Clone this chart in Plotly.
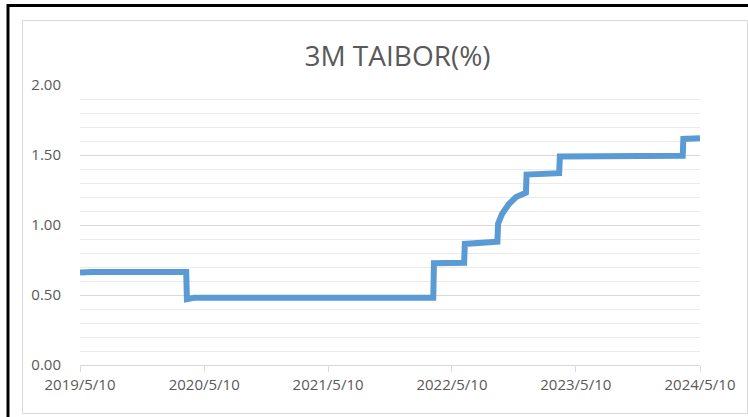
import plotly.graph_objects as go

# Data
dates = [
    "2019-05-10", "2019-06-15", "2020-03-18", "2020-03-20", "2020-04-10",
    "2022-03-16", "2022-03-18", "2022-06-15", "2022-06-17", "2022-09-21",
    "2022-09-23", "2022-10-05", "2022-10-25", "2022-11-15", "2022-12-14",
    "2022-12-16", "2023-03-22", "2023-03-24", "2024-03-20", "2024-03-22",
    "2024-05-10",
]
rates = [
    0.660, 0.665, 0.665, 0.470, 0.480,
    0.480, 0.727, 0.730, 0.865, 0.880,
    1.010, 1.080, 1.150, 1.200, 1.230,
    1.360, 1.370, 1.490, 1.495, 1.615,
    1.620,
]
tick_dates = ["2019-05-10", "2020-05-10", "2021-05-10", "2022-05-10", "2023-05-10", "2024-05-10"]
tick_labels = ["2019/5/10", "2020/5/10", "2021/5/10", "2022/5/10", "2023/5/10", "2024/5/10"]
y_ticks = [0.0, 0.5, 1.0, 1.5, 2.0]
y_labels = ["0.00", "0.50", "1.00", "1.50", "2.00"]
title_text = "3M TAIBOR(%)"

W, H = 748, 417
ML, MR, MT, MB = 80, 48, 85, 52
PW, PH = W - ML - MR, H - MT - MB

def px(x):
    return (x - ML) / PW

def py(y):
    return 1 - (y - MT) / PH

fig = go.Figure()
fig.add_trace(go.Scatter(
    x=dates, y=rates, mode="lines",
    line=dict(color="#5b9bd5", width=6, shape="linear"),
    hoverinfo="skip",
))

gray_txt = "#595959"
fig.update_layout(
    width=W, height=H,
    margin=dict(l=ML, r=MR, t=MT, b=MB),
    paper_bgcolor="white", plot_bgcolor="white",
    showlegend=False,
    font=dict(family="Open Sans", color=gray_txt),
    title=dict(text=title_text, x=px(397.5), xref="paper", xanchor="center",
               y=1 - 56 / H, yanchor="middle",
               font=dict(family="Open Sans", size=28, color=gray_txt)),
    xaxis=dict(
        range=["2019-05-10", "2024-05-10"],
        tickvals=tick_dates, ticktext=tick_labels,
        showgrid=False, zeroline=False,
        showline=True, linecolor="#d9d9d9", linewidth=1,
        ticks="outside", ticklen=6, tickcolor="#d9d9d9", tickwidth=1,
        tickfont=dict(size=15, color=gray_txt),
    ),
    yaxis=dict(
        range=[0, 2],
        tickvals=y_ticks, ticktext=y_labels,
        showgrid=True, gridcolor="#d9d9d9", gridwidth=1,
        zeroline=False, showline=False,
        ticks="", ticklabelstandoff=18,
        tickfont=dict(size=15, color=gray_txt),
        minor=dict(dtick=0.1, showgrid=True, gridcolor="#ebebeb", gridwidth=1),
    ),
    shapes=[
        # chart area border
        dict(type="rect", xref="paper", yref="paper",
             x0=px(22.5), x1=px(747.5), y0=py(413.5), y1=py(20.5),
             line=dict(color="#d9d9d9", width=1), fillcolor="rgba(0,0,0,0)", layer="below"),
        # black document border lines
        dict(type="line", xref="paper", yref="paper",
             x0=px(7), x1=px(748), y0=py(5.5), y1=py(5.5),
             line=dict(color="black", width=3)),
        dict(type="line", xref="paper", yref="paper",
             x0=px(8), x1=px(8), y0=py(4), y1=py(417),
             line=dict(color="black", width=3)),
    ],
)

fig.write_html("out.html", config={"displayModeBar": False},
               post_script="document.body.style.margin='0';")
